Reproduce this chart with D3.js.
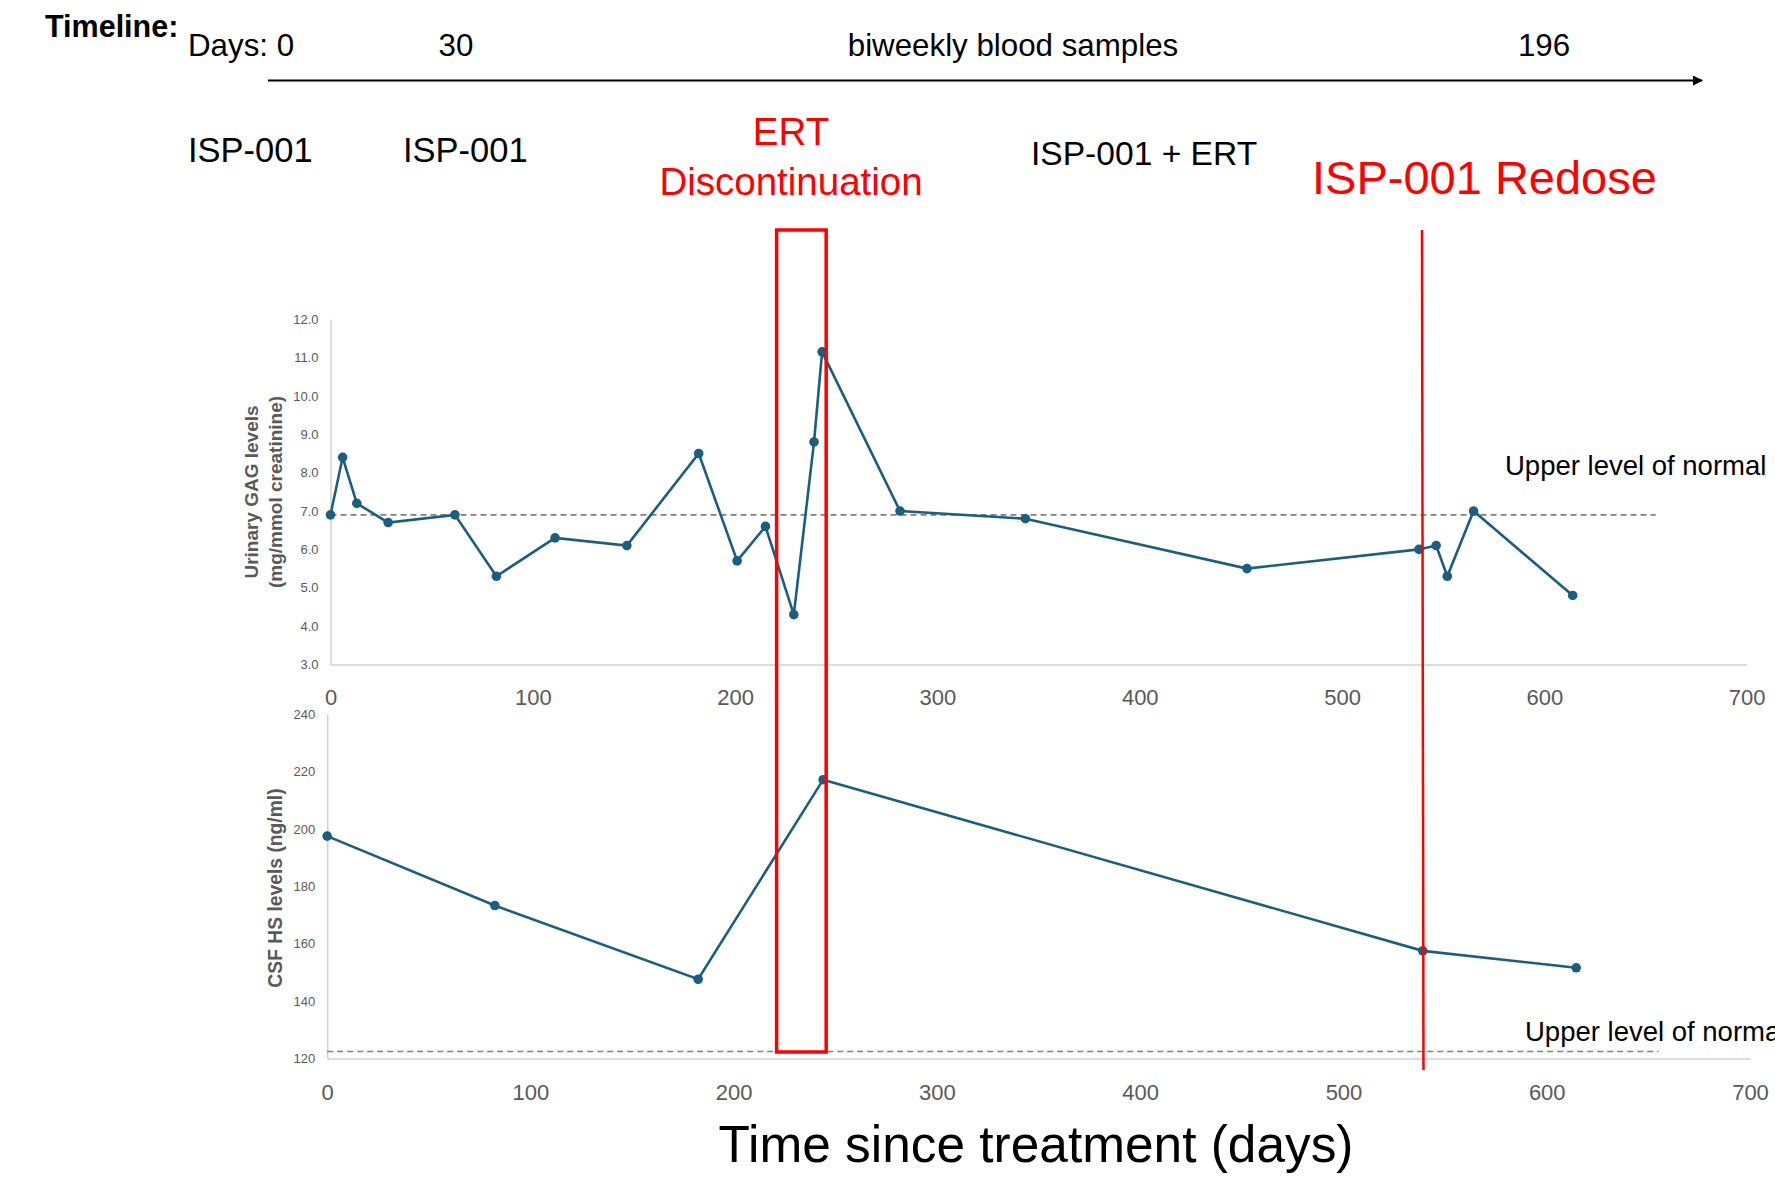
<!DOCTYPE html>
<html><head><meta charset="utf-8">
<script src="https://cdn.jsdelivr.net/npm/d3@7"></script>
<style>body{margin:0;background:#fff;overflow:hidden}svg{display:block}</style>
</head><body>
<script>
// ---- data ----
const gagDays   = [0, 6, 13, 28.5, 61.5, 82, 111, 146.5, 182, 201, 215, 229, 239, 243, 281.5, 343.5, 453, 538, 546.5, 552, 565, 614];
const gagValues = [6.9, 8.4, 7.2, 6.7, 6.9, 5.3, 6.3, 6.1, 8.5, 5.7, 6.6, 4.3, 8.8, 11.15, 7.0, 6.8, 5.5, 6.0, 6.1, 5.3, 7.0, 4.8];
const csfDays   = [0, 82.5, 182.5, 244, 539, 614.5];
const csfValues = [197.5, 173.3, 147.6, 217.2, 157.5, 151.6];
const gagNormal = 6.9;
const csfNormal = 122.4;
const normalLineEndDay = 655;
const xTicks = [0, 100, 200, 300, 400, 500, 600, 700];
const gagTicks = [3, 4, 5, 6, 7, 8, 9, 10, 11, 12];
const csfTicks = [120, 140, 160, 180, 200, 220, 240];
const ertWindow = [220.5, 245];
const redoseDay = 539.5;
const timelineLabels = ["Days: 0", "30", "biweekly blood samples", "196"];
const phaseLabels = ["ISP-001", "ISP-001", "ISP-001 + ERT"];

const W = 1775, H = 1178;
const svg = d3.select("body").append("svg").attr("width", W).attr("height", H);
const F = "'Liberation Sans', Arial, sans-serif";
const lineColor = "#1B5E80";
const axisGray = "#D0D0D0";
const tickGray = "#595959";

// ---- scales ----
const xTop = d3.scaleLinear().domain([0, 700]).range([330.5, 1746.7]);
const yTop = d3.scaleLinear().domain([3, 12]).range([664.5, 319.2]);
const xBot = d3.scaleLinear().domain([0, 700]).range([327.2, 1750]);
const yBot = d3.scaleLinear().domain([120, 240]).range([1058.4, 714.3]);

function drawPanel(xs, ys, days, vals, yt, yfmt, normal, xPad, normalText, normalTextPos) {
  const g = svg.append("g");
  const xa = g.append("g").attr("transform", `translate(0,${ys.range()[0]})`)
    .call(d3.axisBottom(xs).tickValues(xTicks).tickSize(0).tickPadding(xPad));
  xa.select(".domain").attr("stroke", axisGray).attr("stroke-width", 1.5);
  xa.selectAll("text").attr("font-family", F).attr("font-size", 22).attr("fill", tickGray);
  const ya = g.append("g").attr("transform", `translate(${xs(0)},0)`)
    .call(d3.axisLeft(ys).tickValues(yt).tickFormat(yfmt).tickSize(0).tickPadding(12));
  ya.select(".domain").attr("stroke", axisGray).attr("stroke-width", 1.5);
  ya.selectAll("text").attr("font-family", F).attr("font-size", 13).attr("fill", tickGray);
  g.append("line").attr("x1", xs(0)).attr("x2", xs(normalLineEndDay))
    .attr("y1", ys(normal)).attr("y2", ys(normal))
    .attr("stroke", "#808080").attr("stroke-width", 1.6).attr("stroke-dasharray", "6,4");
  g.append("text").attr("x", normalTextPos[0]).attr("y", normalTextPos[1])
    .attr("font-family", F).attr("font-size", 27.5).attr("fill", "#000").text(normalText);
  const pts = days.map((d, i) => [d, vals[i]]);
  g.append("path").datum(pts)
    .attr("d", d3.line().x(d => xs(d[0])).y(d => ys(d[1])))
    .attr("fill", "none").attr("stroke", lineColor).attr("stroke-width", 2.6);
  g.selectAll("circle.p").data(pts).join("circle")
    .attr("cx", d => xs(d[0])).attr("cy", d => ys(d[1])).attr("r", 4.8)
    .attr("fill", lineColor);
  return g;
}

drawPanel(xTop, yTop, gagDays, gagValues, gagTicks, d3.format(".1f"), gagNormal, 25,
  "Upper level of normal", [1505, 475]);
drawPanel(xBot, yBot, csfDays, csfValues, csfTicks, d3.format("d"), csfNormal, 26,
  "Upper level of normal", [1525, 1041]);

// y axis titles
svg.append("text").attr("transform", "translate(258,492) rotate(-90)")
  .attr("text-anchor", "middle").attr("font-family", F).attr("font-weight", "bold")
  .attr("font-size", 19).attr("fill", tickGray).text("Urinary GAG levels");
svg.append("text").attr("transform", "translate(282,492) rotate(-90)")
  .attr("text-anchor", "middle").attr("font-family", F).attr("font-weight", "bold")
  .attr("font-size", 19).attr("fill", tickGray).text("(mg/mmol creatinine)");
svg.append("text").attr("transform", "translate(282,888) rotate(-90)")
  .attr("text-anchor", "middle").attr("font-family", F).attr("font-weight", "bold")
  .attr("font-size", 19.3).attr("fill", tickGray).text("CSF HS levels (ng/ml)");

// x axis title
svg.append("text").attr("x", 1036).attr("y", 1162).attr("text-anchor", "middle")
  .attr("font-family", F).attr("font-size", 51.4).attr("fill", "#000")
  .text("Time since treatment (days)");

// ---- timeline ----
svg.append("text").attr("x", 45).attr("y", 37).attr("font-family", F)
  .attr("font-weight", "bold").attr("font-size", 30.5).text("Timeline:");
const tlPos = [[188, "start"], [456, "middle"], [1013, "middle"], [1544, "middle"]];
timelineLabels.forEach((t, i) => {
  svg.append("text").attr("x", tlPos[i][0]).attr("y", 56).attr("text-anchor", tlPos[i][1])
    .attr("font-family", F).attr("font-size", 31.3).text(t);
});
svg.append("defs").append("marker").attr("id", "arr").attr("viewBox", "0 0 10 10")
  .attr("refX", 9).attr("refY", 5).attr("markerWidth", 5).attr("markerHeight", 5)
  .attr("orient", "auto").append("path").attr("d", "M0,0L10,5L0,10z").attr("fill", "#000");
svg.append("line").attr("x1", 268).attr("x2", 1702).attr("y1", 80.5).attr("y2", 80.5)
  .attr("stroke", "#000").attr("stroke-width", 2).attr("marker-end", "url(#arr)");

const phPos = [[188, 162], [403, 162], [1031, 165]];
const phSize = [34.5, 34.5, 33.6];
phaseLabels.forEach((t, i) => {
  svg.append("text").attr("x", phPos[i][0]).attr("y", phPos[i][1])
    .attr("font-family", F).attr("font-size", phSize[i]).text(t);
});
svg.append("text").attr("x", 791).attr("y", 145).attr("text-anchor", "middle")
  .attr("font-family", F).attr("font-size", 38.5).attr("fill", "#FF0000").text("ERT");
svg.append("text").attr("x", 791).attr("y", 195).attr("text-anchor", "middle")
  .attr("font-family", F).attr("font-size", 38.5).attr("fill", "#FF0000").text("Discontinuation");
svg.append("text").attr("x", 1312).attr("y", 194)
  .attr("font-family", F).attr("font-size", 47).attr("fill", "#FF0000").text("ISP-001 Redose");

// ---- annotations ----
svg.append("rect").attr("x", xTop(ertWindow[0])).attr("y", 230)
  .attr("width", xTop(ertWindow[1]) - xTop(ertWindow[0])).attr("height", 1052 - 230)
  .attr("fill", "none").attr("stroke", "#FF0000").attr("stroke-width", 3.5);
svg.append("line").attr("x1", xTop(redoseDay)).attr("x2", xTop(redoseDay) + 1.5)
  .attr("y1", 230).attr("y2", 1070).attr("stroke", "#FF0000").attr("stroke-width", 2.5);
</script>
</body></html>
